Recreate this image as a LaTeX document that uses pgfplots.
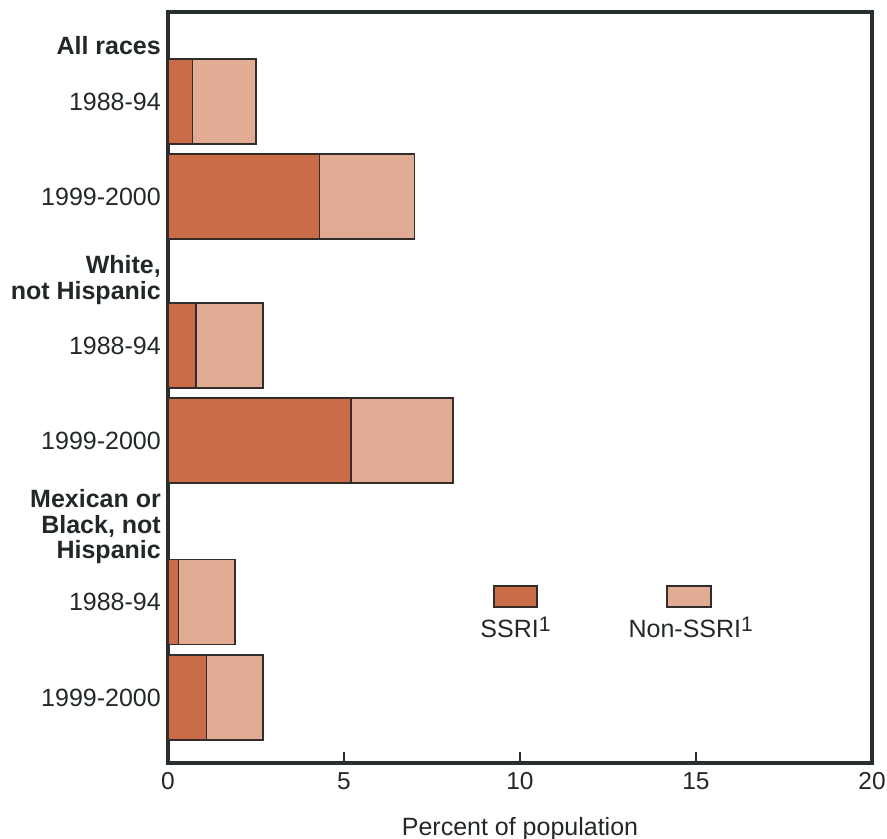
\documentclass[border=0pt]{standalone}
\usepackage{fontspec}
\setmainfont{Liberation Sans}
\usepackage{pgfplots}
\pgfplotsset{compat=1.18}
\definecolor{ssri}{RGB}{201,108,71}
\definecolor{nonssri}{RGB}{226,172,148}
\definecolor{axcol}{RGB}{38,46,48}
\definecolor{txt}{RGB}{34,40,40}
\definecolor{edge}{RGB}{50,44,42}
\newcommand{\supone}[1]{\raisebox{6bp}{\fontsize{21bp}{21bp}\selectfont #1}}
\begin{document}
\fontsize{25bp}{25bp}\selectfont
\begin{tikzpicture}
\useasboundingbox (-168bp,-76bp) rectangle (719bp,763bp);
\begin{axis}[
  at={(0,0)}, anchor=south west,
  scale only axis, width=704bp, height=751bp,
  xbar stacked, bar width=85,
  xmin=0, xmax=20, ymin=12, ymax=763, y dir=reverse,
  xtick={0,5,10,15,20}, xtick pos=bottom, xtick align=inside,
  major tick length=11bp,
  x tick style={line width=2.5bp, color=axcol},
  ytick={46,101.5,196.5,280,345.5,440.5,527,602,697.5},
  yticklabels={{\textbf{All races}},1988-94,1999-2000,{\textbf{White,}\\\textbf{not Hispanic}},1988-94,1999-2000,{\textbf{Mexican or}\\\textbf{Black, not}\\\textbf{Hispanic}},1988-94,1999-2000},
  y tick style={draw=none},
  yticklabel style={align=right, inner sep=0pt, xshift=-7bp, font=\fontsize{25bp}{25.5bp}\selectfont, text=txt},
  xticklabel style={inner sep=0pt, yshift=-9bp, font=\fontsize{24.5bp}{25bp}\selectfont, text=txt},
  /pgf/number format/assume math mode=true,
  axis line style={line width=4bp, color=axcol},
  xlabel={Percent of population},
  xlabel style={at={(axis description cs:0.5,0)}, anchor=base, yshift=-72bp, font=\fontsize{25bp}{25bp}\selectfont, text=txt},
  every axis plot/.append style={draw=edge, line width=1.4bp},
  clip=false,
]
\addplot[fill=ssri] coordinates {(0.7,101.5) (4.3,196.5) (0.8,345.5) (5.2,440.5) (0.3,602) (1.1,697.5)};
\addplot[fill=nonssri] coordinates {(1.8,101.5) (2.7,196.5) (1.9,345.5) (2.9,440.5) (1.6,602) (1.6,697.5)};
% legend
\draw[draw=edge, line width=1.4bp, fill=ssri] (axis cs:9.26,586) rectangle (axis cs:10.48,607);
\draw[draw=edge, line width=1.4bp, fill=nonssri] (axis cs:14.18,586) rectangle (axis cs:15.43,607);
\node[anchor=base, inner sep=0pt, text=txt] at (axis cs:9.87,637) {SSRI\supone{1}};
\node[anchor=base, inner sep=0pt, text=txt] at (axis cs:14.85,637) {Non-SSRI\supone{1}};
\end{axis}
\end{tikzpicture}
\end{document}
